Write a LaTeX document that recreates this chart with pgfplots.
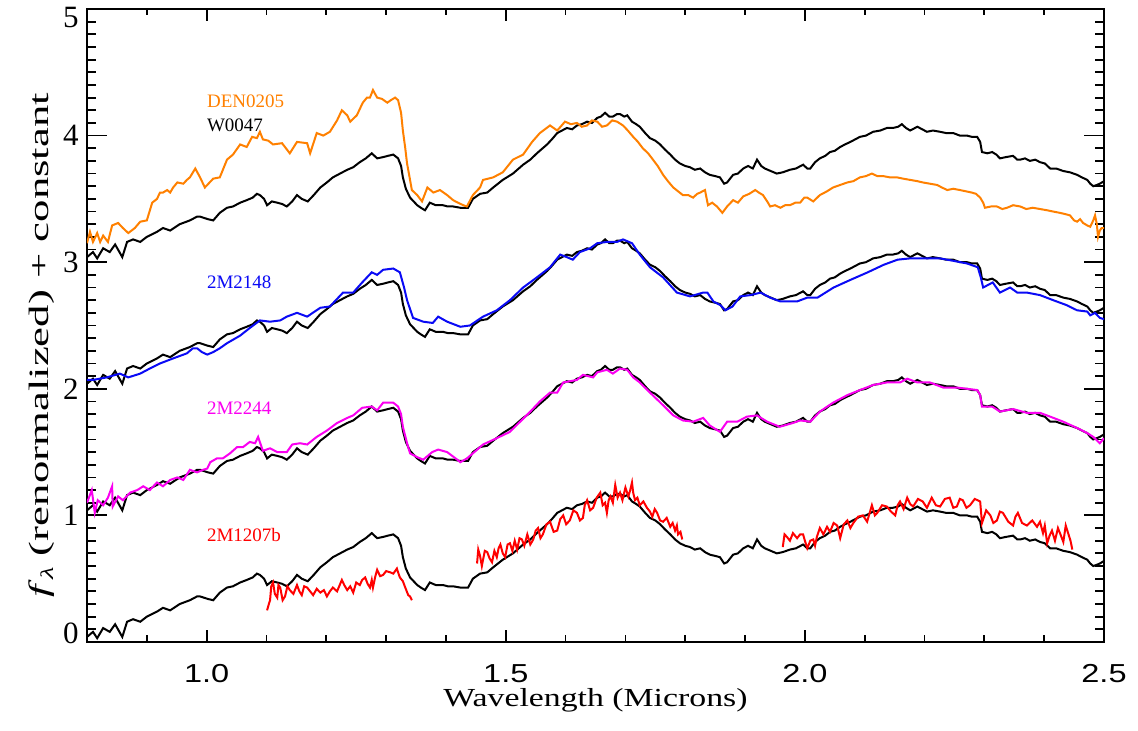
\documentclass[border=0pt]{standalone}
\usepackage{fontspec}
\setmainfont{Liberation Serif}
\setsansfont{Liberation Sans}
\usepackage{graphicx}
\usepackage{pgfplots}
\usepackage{pgfplotstable}
\pgfplotsset{compat=1.18}
\definecolor{idlorange}{RGB}{255,128,0}
\definecolor{idlblue}{RGB}{10,10,245}
\definecolor{idlmag}{RGB}{250,0,240}
\definecolor{idlred}{RGB}{255,0,0}

% W0047 template (offset 0); plotted at offsets 0,1,2,3
\pgfplotstableread{
x y
0.800 0.04
0.810 0.08
0.817 0.03
0.827 0.11
0.838 0.08
0.847 0.14
0.859 0.04
0.867 0.16
0.877 0.18
0.889 0.16
0.900 0.20
0.917 0.24
0.927 0.27
0.939 0.25
0.955 0.30
0.972 0.33
0.984 0.36
0.989 0.36
1.002 0.34
1.011 0.33
1.022 0.39
1.034 0.43
1.044 0.44
1.056 0.47
1.067 0.49
1.077 0.51
1.084 0.54
1.089 0.53
1.096 0.50
1.101 0.45
1.109 0.48
1.118 0.47
1.126 0.46
1.134 0.44
1.143 0.48
1.151 0.53
1.159 0.50
1.169 0.48
1.179 0.53
1.190 0.59
1.201 0.63
1.211 0.67
1.223 0.70
1.235 0.73
1.245 0.75
1.256 0.79
1.266 0.82
1.276 0.86
1.285 0.82
1.295 0.83
1.303 0.84
1.312 0.85
1.320 0.82
1.325 0.76
1.328 0.67
1.333 0.58
1.340 0.51
1.352 0.45
1.358 0.43
1.365 0.41
1.373 0.47
1.383 0.45
1.395 0.45
1.403 0.44
1.412 0.44
1.424 0.43
1.437 0.43
1.445 0.50
1.457 0.54
1.469 0.55
1.479 0.59
1.495 0.65
1.512 0.70
1.529 0.77
1.541 0.81
1.552 0.86
1.569 0.93
1.577 0.97
1.586 1.02
1.594 1.04
1.602 1.06
1.611 1.05
1.619 1.08
1.627 1.09
1.636 1.11
1.644 1.10
1.653 1.14
1.659 1.15
1.666 1.18
1.673 1.15
1.679 1.15
1.686 1.17
1.691 1.17
1.698 1.15
1.703 1.16
1.711 1.11
1.718 1.09
1.724 1.07
1.733 1.02
1.741 0.98
1.750 0.96
1.758 0.93
1.766 0.89
1.775 0.85
1.783 0.81
1.791 0.78
1.800 0.76
1.808 0.75
1.816 0.73
1.825 0.74
1.833 0.71
1.841 0.69
1.850 0.68
1.858 0.67
1.865 0.62
1.870 0.63
1.875 0.66
1.880 0.69
1.888 0.70
1.897 0.74
1.905 0.76
1.913 0.74
1.920 0.81
1.927 0.76
1.933 0.74
1.943 0.72
1.953 0.70
1.963 0.71
1.975 0.73
1.985 0.74
1.997 0.77
2.004 0.74
2.009 0.74
2.017 0.79
2.025 0.82
2.034 0.84
2.042 0.87
2.050 0.88
2.059 0.91
2.067 0.93
2.076 0.95
2.084 0.97
2.092 0.99
2.102 1.00
2.114 1.03
2.126 1.04
2.137 1.06
2.147 1.06
2.156 1.07
2.162 1.09
2.169 1.06
2.176 1.04
2.188 1.07
2.196 1.05
2.204 1.03
2.214 1.04
2.226 1.03
2.236 1.02
2.248 1.02
2.259 1.00
2.271 1.00
2.279 0.99
2.288 0.99
2.293 0.95
2.296 0.87
2.305 0.86
2.313 0.87
2.320 0.85
2.326 0.82
2.336 0.83
2.348 0.84
2.355 0.81
2.360 0.81
2.368 0.82
2.376 0.80
2.385 0.81
2.393 0.79
2.401 0.78
2.410 0.74
2.420 0.74
2.432 0.72
2.443 0.71
2.455 0.69
2.463 0.67
2.472 0.65
2.477 0.62
2.482 0.60
2.488 0.61
2.493 0.62
2.500 0.64
}\wzero

\pgfplotstableread{
x y
0.800 3.15
0.805 3.24
0.810 3.16
0.817 3.23
0.822 3.16
0.827 3.21
0.835 3.16
0.842 3.29
0.852 3.31
0.860 3.27
0.869 3.23
0.880 3.27
0.889 3.32
0.900 3.33
0.909 3.47
0.917 3.50
0.922 3.55
0.927 3.55
0.934 3.57
0.939 3.55
0.944 3.59
0.951 3.63
0.961 3.62
0.967 3.65
0.972 3.67
0.981 3.74
0.989 3.67
0.997 3.59
1.011 3.66
1.022 3.67
1.034 3.81
1.044 3.85
1.056 3.93
1.067 3.91
1.076 3.99
1.084 3.98
1.089 4.03
1.094 3.97
1.103 3.96
1.111 3.93
1.126 3.94
1.139 3.86
1.151 3.95
1.168 3.94
1.173 3.86
1.184 4.02
1.195 4.00
1.206 4.03
1.218 4.12
1.226 4.20
1.235 4.16
1.240 4.11
1.251 4.16
1.261 4.26
1.268 4.30
1.273 4.30
1.278 4.36
1.285 4.30
1.293 4.29
1.302 4.26
1.308 4.28
1.315 4.30
1.320 4.28
1.325 4.18
1.328 4.04
1.332 3.90
1.335 3.78
1.340 3.65
1.343 3.57
1.352 3.53
1.360 3.48
1.369 3.59
1.379 3.55
1.390 3.57
1.402 3.53
1.412 3.49
1.420 3.47
1.429 3.45
1.435 3.44
1.445 3.53
1.457 3.59
1.462 3.65
1.479 3.67
1.495 3.71
1.512 3.81
1.529 3.85
1.544 3.95
1.557 4.02
1.574 4.08
1.586 4.04
1.599 4.11
1.609 4.09
1.619 4.10
1.627 4.07
1.636 4.08
1.644 4.12
1.653 4.11
1.661 4.07
1.669 4.08
1.678 4.12
1.686 4.11
1.696 4.08
1.704 4.04
1.713 3.99
1.721 3.95
1.729 3.90
1.738 3.86
1.746 3.81
1.754 3.76
1.763 3.69
1.771 3.64
1.780 3.59
1.788 3.56
1.796 3.53
1.805 3.53
1.813 3.51
1.820 3.54
1.825 3.55
1.833 3.57
1.838 3.45
1.845 3.47
1.853 3.44
1.862 3.39
1.870 3.44
1.880 3.49
1.888 3.47
1.897 3.52
1.907 3.54
1.917 3.57
1.923 3.55
1.930 3.53
1.937 3.48
1.942 3.44
1.950 3.45
1.959 3.43
1.967 3.45
1.975 3.45
1.984 3.47
1.992 3.47
1.999 3.51
2.004 3.51
2.014 3.48
2.025 3.53
2.037 3.56
2.047 3.59
2.059 3.61
2.071 3.63
2.081 3.64
2.092 3.67
2.102 3.68
2.112 3.70
2.121 3.68
2.131 3.68
2.142 3.67
2.154 3.67
2.164 3.66
2.176 3.65
2.188 3.64
2.197 3.63
2.209 3.62
2.221 3.61
2.229 3.59
2.238 3.57
2.248 3.58
2.259 3.57
2.269 3.56
2.279 3.55
2.286 3.54
2.293 3.51
2.298 3.47
2.301 3.43
2.311 3.44
2.321 3.44
2.330 3.42
2.338 3.43
2.348 3.45
2.360 3.44
2.370 3.42
2.381 3.43
2.393 3.42
2.405 3.41
2.415 3.40
2.426 3.39
2.435 3.38
2.443 3.37
2.450 3.33
2.455 3.32
2.460 3.34
2.465 3.31
2.472 3.29
2.477 3.28
2.482 3.33
2.485 3.37
2.488 3.30
2.490 3.20
2.493 3.25
2.496 3.27
2.500 3.27
}\denzero

\pgfplotstableread{
x y
0.800 2.07
0.810 2.07
0.833 2.09
0.855 2.12
0.869 2.09
0.889 2.12
0.905 2.16
0.922 2.20
0.944 2.24
0.967 2.28
0.977 2.32
0.984 2.32
0.992 2.29
1.001 2.27
1.011 2.29
1.022 2.32
1.034 2.36
1.056 2.42
1.072 2.48
1.089 2.54
1.106 2.53
1.123 2.54
1.134 2.57
1.151 2.60
1.168 2.57
1.190 2.64
1.206 2.65
1.228 2.76
1.245 2.76
1.260 2.84
1.276 2.92
1.285 2.90
1.295 2.94
1.312 2.95
1.323 2.92
1.330 2.80
1.335 2.70
1.345 2.56
1.362 2.53
1.378 2.52
1.387 2.57
1.402 2.53
1.424 2.49
1.440 2.50
1.462 2.57
1.485 2.62
1.507 2.70
1.529 2.80
1.552 2.88
1.574 2.96
1.591 3.06
1.602 3.04
1.612 3.02
1.624 3.08
1.641 3.11
1.653 3.15
1.669 3.16
1.686 3.16
1.696 3.18
1.711 3.15
1.724 3.06
1.741 2.96
1.763 2.88
1.786 2.76
1.808 2.73
1.830 2.76
1.837 2.76
1.847 2.69
1.859 2.66
1.867 2.62
1.879 2.65
1.892 2.73
1.909 2.74
1.926 2.76
1.942 2.72
1.959 2.69
1.987 2.69
2.004 2.72
2.021 2.72
2.048 2.80
2.076 2.86
2.105 2.92
2.132 2.98
2.155 3.02
2.176 3.03
2.205 3.03
2.226 3.03
2.249 3.01
2.271 2.99
2.289 2.96
2.294 2.88
2.298 2.80
2.314 2.84
2.326 2.76
2.343 2.80
2.355 2.76
2.371 2.76
2.393 2.74
2.415 2.70
2.438 2.66
2.455 2.62
2.472 2.61
2.477 2.58
2.485 2.60
2.493 2.56
2.500 2.55
}\mtwoone

\pgfplotstableread{
x y
0.800 1.10
0.808 1.20
0.813 1.02
0.818 1.12
0.827 1.08
0.835 1.14
0.842 1.23
0.843 1.07
0.852 1.15
0.860 1.12
0.872 1.18
0.884 1.20
0.894 1.23
0.905 1.20
0.917 1.26
0.927 1.23
0.939 1.28
0.951 1.30
0.961 1.28
0.972 1.36
0.984 1.34
0.994 1.36
1.001 1.37
1.006 1.42
1.017 1.45
1.027 1.45
1.039 1.49
1.051 1.54
1.061 1.54
1.072 1.58
1.081 1.57
1.086 1.62
1.094 1.51
1.106 1.53
1.118 1.50
1.134 1.50
1.143 1.56
1.156 1.57
1.168 1.56
1.184 1.62
1.201 1.67
1.218 1.73
1.235 1.77
1.245 1.79
1.260 1.85
1.276 1.86
1.285 1.83
1.295 1.89
1.312 1.89
1.320 1.86
1.325 1.80
1.328 1.70
1.335 1.57
1.340 1.49
1.352 1.46
1.362 1.44
1.377 1.50
1.387 1.52
1.402 1.50
1.419 1.44
1.424 1.42
1.435 1.45
1.445 1.49
1.462 1.56
1.485 1.61
1.507 1.66
1.524 1.74
1.541 1.82
1.557 1.90
1.574 1.97
1.586 1.97
1.596 2.05
1.619 2.07
1.629 2.11
1.646 2.09
1.653 2.13
1.669 2.15
1.679 2.12
1.691 2.16
1.703 2.15
1.713 2.09
1.724 2.05
1.741 1.97
1.763 1.87
1.780 1.79
1.796 1.75
1.813 1.74
1.830 1.77
1.841 1.71
1.858 1.66
1.870 1.74
1.887 1.74
1.903 1.78
1.920 1.79
1.937 1.74
1.958 1.70
1.980 1.73
1.992 1.75
2.009 1.74
2.025 1.82
2.047 1.89
2.071 1.95
2.092 1.99
2.114 2.03
2.137 2.05
2.159 2.05
2.171 2.08
2.188 2.05
2.209 2.05
2.231 2.01
2.254 2.01
2.271 2.00
2.288 1.99
2.293 1.95
2.296 1.86
2.313 1.86
2.326 1.82
2.348 1.84
2.371 1.81
2.393 1.81
2.410 1.78
2.432 1.74
2.455 1.69
2.472 1.65
2.482 1.62
2.493 1.57
2.500 1.61
}\mtwotwo

\pgfplotstableread{
x y
1.101 0.25
1.104 0.30
1.106 0.33
1.108 0.44
1.111 0.47
1.114 0.38
1.118 0.35
1.120 0.45
1.123 0.43
1.127 0.33
1.131 0.36
1.135 0.44
1.139 0.41
1.145 0.38
1.151 0.45
1.155 0.40
1.159 0.37
1.163 0.44
1.168 0.43
1.173 0.40
1.178 0.37
1.184 0.42
1.190 0.39
1.196 0.41
1.201 0.36
1.206 0.40
1.211 0.43
1.218 0.40
1.226 0.49
1.230 0.45
1.235 0.41
1.240 0.44
1.245 0.39
1.250 0.47
1.256 0.45
1.260 0.49
1.265 0.51
1.269 0.46
1.273 0.43
1.276 0.49
1.278 0.43
1.282 0.52
1.285 0.57
1.290 0.52
1.295 0.53
1.300 0.56
1.307 0.55
1.312 0.54
1.318 0.58
1.320 0.55
1.323 0.51
1.328 0.48
1.332 0.43
1.337 0.37
1.340 0.36
1.343 0.33
}\redA

\pgfplotstableread{
x y
1.452 0.62
1.454 0.73
1.457 0.68
1.460 0.60
1.462 0.65
1.465 0.72
1.469 0.71
1.473 0.66
1.477 0.63
1.481 0.72
1.485 0.67
1.488 0.74
1.491 0.77
1.495 0.70
1.499 0.67
1.503 0.77
1.507 0.78
1.511 0.72
1.515 0.80
1.519 0.73
1.523 0.82
1.527 0.81
1.531 0.76
1.536 0.85
1.541 0.77
1.546 0.81
1.550 0.88
1.554 0.90
1.558 0.82
1.562 0.85
1.568 0.93
1.574 0.95
1.580 0.87
1.586 0.88
1.591 0.97
1.596 1.00
1.601 0.93
1.607 0.96
1.613 1.04
1.619 1.02
1.624 0.96
1.629 0.98
1.632 1.08
1.636 1.12
1.641 1.04
1.646 1.06
1.652 1.14
1.658 1.18
1.662 1.08
1.666 1.10
1.669 1.02
1.672 1.12
1.675 1.15
1.679 1.10
1.683 1.24
1.687 1.14
1.691 1.18
1.695 1.12
1.700 1.22
1.705 1.15
1.708 1.20
1.711 1.26
1.713 1.18
1.716 1.12
1.720 1.14
1.724 1.08
1.730 1.11
1.736 1.06
1.741 1.03
1.745 0.99
1.749 1.05
1.753 1.02
1.758 0.96
1.763 0.95
1.769 0.98
1.775 0.91
1.779 0.94
1.783 0.88
1.786 0.92
1.788 0.85
1.792 0.87
1.795 0.81
}\redB

\pgfplotstableread{
x y
1.963 0.75
1.966 0.85
1.970 0.83
1.975 0.80
1.980 0.86
1.987 0.82
1.992 0.85
1.997 0.85
2.000 0.80
2.004 0.74
2.009 0.80
2.014 0.81
2.017 0.76
2.020 0.83
2.025 0.90
2.031 0.85
2.037 0.91
2.042 0.87
2.048 0.94
2.054 0.92
2.059 0.82
2.065 0.93
2.071 0.96
2.076 0.90
2.081 0.94
2.089 0.99
2.097 1.00
2.104 0.95
2.112 1.08
2.117 1.00
2.121 1.02
2.129 1.08
2.137 1.07
2.144 1.03
2.151 1.00
2.155 1.08
2.159 1.11
2.165 1.05
2.171 1.14
2.176 1.09
2.181 1.07
2.189 1.13
2.197 1.11
2.204 1.06
2.212 1.14
2.219 1.08
2.226 1.07
2.234 1.13
2.242 1.14
2.248 1.06
2.254 1.07
2.259 1.13
2.264 1.12
2.270 1.06
2.276 1.08
2.284 1.13
2.293 1.11
2.296 0.94
2.303 1.04
2.310 1.00
2.315 0.94
2.321 0.96
2.326 1.03
2.331 1.02
2.340 0.95
2.348 0.92
2.352 0.99
2.356 1.02
2.363 0.94
2.371 0.92
2.380 0.96
2.388 0.91
2.393 0.95
2.398 0.86
2.401 0.92
2.405 0.78
2.409 0.84
2.413 0.88
2.418 0.80
2.423 0.90
2.428 0.84
2.432 0.79
2.436 0.92
2.440 0.86
2.444 0.80
2.447 0.73
}\redC

\begin{document}
\begin{tikzpicture}
\begin{axis}[
  scale only axis,
  width=508.5pt, height=316.5pt,
  xmin=0.8, xmax=2.5, ymin=0, ymax=5,
  axis line style={line width=1pt},
  tick align=inside, tick pos=both,
  xtick={1.0,1.5,2.0,2.5},
  xticklabels={\scalebox{1.25}[1]{1.0},\scalebox{1.25}[1]{1.5},\scalebox{1.25}[1]{2.0},\scalebox{1.25}[1]{2.5}},
  minor xtick={0.9,1.1,1.2,1.3,1.4,1.6,1.7,1.8,1.9,2.1,2.2,2.3,2.4},
  ytick={0,1,2,3,4,5},
  yticklabels={\raisebox{4.5pt}[\height][\depth]{0},1,2,3,4,\raisebox{-4.5pt}[\height][\depth]{5}},
  minor y tick num=9,
  x tick style={/pgfplots/major tick length=6pt,/pgfplots/minor tick length=3.25pt},
  y tick style={/pgfplots/major tick length=10pt,/pgfplots/minor tick length=4.5pt},
  every tick/.style={black, line width=0.9pt},
  xticklabel style={font=\sffamily\fontsize{13}{15}\selectfont, anchor=center, yshift=-16pt},
  yticklabel style={font=\fontsize{15.5}{17}\selectfont, anchor=center, xshift=-8pt},
  xlabel={\scalebox{1.3}[1]{\fontsize{13}{15}\selectfont Wavelength (Microns)}},
  xlabel style={at={(axis description cs:0.5,-0.0916)}, anchor=center},
  ylabel={\scalebox{1.6}[1]{\fontsize{14}{16}\selectfont\textit{f}\raisebox{-0.4ex}{\fontsize{9}{9}\selectfont\textit{λ}} (renormalized) + constant}},
  ylabel style={at={(axis description cs:-0.045,0.469)}, anchor=center, rotate=0},
  clip=true,
]
\addplot[black, line width=1pt] table[x=x, y expr=\thisrow{y}+3] {\wzero};
\addplot[black, line width=1pt] table[x=x, y expr=\thisrow{y}+2] {\wzero};
\addplot[black, line width=1pt] table[x=x, y expr=\thisrow{y}+1] {\wzero};
\addplot[black, line width=1pt] table[x=x, y=y] {\wzero};
\addplot[idlorange, line width=1pt] table[x=x, y=y] {\denzero};
\addplot[idlblue, line width=1pt] table[x=x, y=y] {\mtwoone};
\addplot[idlmag, line width=1pt] table[x=x, y=y] {\mtwotwo};
\addplot[idlred, line width=1pt] table[x=x, y=y] {\redA};
\addplot[idlred, line width=1pt] table[x=x, y=y] {\redB};
\addplot[idlred, line width=1pt] table[x=x, y=y] {\redC};
\node[anchor=west, inner sep=0pt, text=idlorange, font=\fontsize{9.5}{10}\selectfont] at (axis cs:1.0,4.27) {DEN0205};
\node[anchor=west, inner sep=0pt, text=black, font=\fontsize{9.5}{10}\selectfont] at (axis cs:1.0,4.08) {W0047};
\node[anchor=west, inner sep=0pt, text=idlblue, font=\fontsize{9.5}{10}\selectfont] at (axis cs:1.0,2.84) {2M2148};
\node[anchor=west, inner sep=0pt, text=idlmag, font=\fontsize{9.5}{10}\selectfont] at (axis cs:1.0,1.85) {2M2244};
\node[anchor=west, inner sep=0pt, text=idlred, font=\fontsize{9.5}{10}\selectfont] at (axis cs:1.0,0.845) {2M1207b};
\end{axis}
\pgfresetboundingbox
\path[use as bounding box] (-43.5pt,-44.5pt) rectangle (525.5pt,321pt);
\end{tikzpicture}
\end{document}
